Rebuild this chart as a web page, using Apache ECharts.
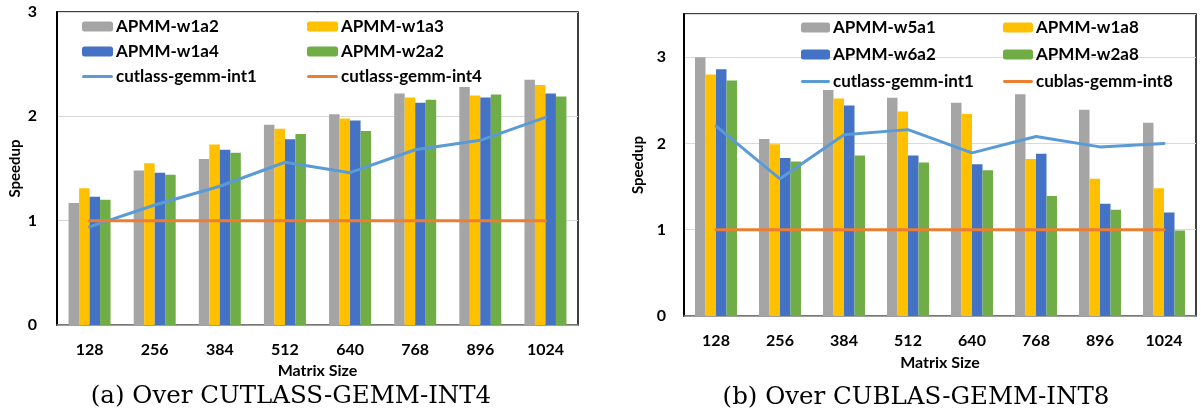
<!DOCTYPE html>
<html>
<head>
<meta charset="utf-8">
<script src="https://cdn.jsdelivr.net/npm/echarts@6/dist/echarts.min.js"></script>
<style>
  html, body { margin: 0; padding: 0; background: #fff; }
  #chart { width: 1201px; height: 415px; }
</style>
</head>
<body>
<div id="chart"></div>
<script>
// matrix sizes, shared by both panels
const sizes = ['128', '256', '384', '512', '640', '768', '896', '1024'];

// (a) over cutlass-gemm-int4
const w1a2 = [1.17, 1.48, 1.59, 1.92, 2.02, 2.22, 2.28, 2.35];
const w1a3 = [1.31, 1.55, 1.73, 1.88, 1.98, 2.18, 2.20, 2.30];
const w1a4 = [1.23, 1.46, 1.68, 1.78, 1.96, 2.13, 2.18, 2.22];
const w2a2 = [1.20, 1.44, 1.65, 1.83, 1.86, 2.16, 2.21, 2.19];
const cutlassInt1A = [0.94, 1.15, 1.33, 1.56, 1.46, 1.68, 1.77, 1.99];
const cutlassInt4 = [1, 1, 1, 1, 1, 1, 1, 1];

// (b) over cublas-gemm-int8
const w5a1 = [3.00, 2.05, 2.62, 2.53, 2.47, 2.57, 2.39, 2.24];
const w1a8 = [2.80, 1.99, 2.52, 2.37, 2.34, 1.82, 1.59, 1.48];
const w6a2 = [2.86, 1.83, 2.44, 1.86, 1.76, 1.88, 1.30, 1.20];
const w2a8 = [2.73, 1.79, 1.86, 1.78, 1.69, 1.39, 1.23, 0.99];
const cutlassInt1B = [2.20, 1.59, 2.10, 2.16, 1.89, 2.08, 1.96, 2.00];
const cublasInt8 = [1, 1, 1, 1, 1, 1, 1, 1];

const GRAY = '#A5A5A5';
const YELLOW = '#FFC000';
const BLUE = '#4472C4';
const GREEN = '#70AD47';
const LBLUE = '#5B9BD5';
const ORANGE = '#ED7D31';
const FONT = 'Lato';
// flat stroke used as legend icon for the line series
const LINE_ICON = 'path://M1.5,0h28a1.5,1.5 0 0 1 0,3h-28a1.5,1.5 0 0 1 0,-3z';

const chart = echarts.init(document.getElementById('chart'), null, { renderer: 'canvas' });

const bar = (name, data, color, idx) => ({
  name,
  type: 'bar',
  data,
  xAxisIndex: idx,
  yAxisIndex: idx,
  barWidth: 10.5,
  barGap: '0%',
  itemStyle: { color },
});
const line = (name, data, color, idx) => ({
  name,
  type: 'line',
  data,
  xAxisIndex: idx,
  yAxisIndex: idx,
  symbol: 'none',
  z: 5,
  lineStyle: { color, width: 3, cap: 'round' },
  itemStyle: { color },
});

const legend = (bars, lineName, left, top, gap, w) => ({
  data: [...bars, { name: lineName, icon: LINE_ICON }],
  orient: 'vertical',
  left,
  top,
  padding: 0,
  itemWidth: w,
  itemHeight: 10,
  itemGap: gap,
  textStyle: { fontFamily: FONT, fontWeight: 'bold', fontSize: 17, color: '#000', lineHeight: 16, padding: [0, 0, 0, -2] },
});

const xAxis = (idx, gap) => ({
  type: 'category',
  gridIndex: idx,
  data: sizes,
  name: 'Matrix Size',
  nameLocation: 'middle',
  nameGap: gap,
  nameTextStyle: { fontFamily: FONT, fontWeight: 'bold', fontSize: 16, color: '#000' },
  axisLine: { lineStyle: { color: '#8C8C8C', width: 1.5 } },
  axisTick: { show: false },
  axisLabel: { fontFamily: FONT, fontWeight: 'bold', fontSize: 16, color: '#000', margin: 17 },
});

const yAxis = (idx, max, margin, gap) => ({
  type: 'value',
  gridIndex: idx,
  min: 0,
  max,
  interval: 1,
  name: 'Speedup',
  nameLocation: 'middle',
  nameGap: gap,
  nameTextStyle: { fontFamily: FONT, fontWeight: 'bold', fontSize: 15, color: '#000' },
  axisLine: { show: true, lineStyle: { color: '#000', width: 2 } },
  axisTick: { show: false },
  axisLabel: {
    fontFamily: FONT, fontWeight: 'bold', fontSize: 16, color: '#000', margin,
    formatter: v => (v % 1 === 0 ? String(v) : ''),
  },
  splitLine: { lineStyle: { color: '#D9D9D9', width: 1 } },
});

chart.setOption({
  animation: false,
  grid: [
    { left: 57, top: 12, width: 521, height: 313, show: true, borderColor: '#000', borderWidth: 1.5 },
    { left: 684, top: 14, width: 512, height: 302, show: true, borderColor: '#000', borderWidth: 1.5 },
  ],
  legend: [
    legend(['APMM-w1a2', 'APMM-w1a4'], 'cutlass-gemm-int1', 82, 18, 8, 31),
    legend(['APMM-w1a3', 'APMM-w2a2'], 'cutlass-gemm-int4', 307, 18, 8, 31),
    legend(['APMM-w5a1', 'APMM-w6a2'], 'cutlass-gemm-int1', 801, 19, 10, 29),
    legend(['APMM-w1a8', 'APMM-w2a8'], 'cublas-gemm-int8', 1003, 19, 10, 30),
  ],
  xAxis: [xAxis(0, 31), xAxis(1, 39)],
  yAxis: [yAxis(0, 3, 20, 34), yAxis(1, 3.5, 18, 38)],
  series: [
    bar('APMM-w1a2', w1a2, GRAY, 0),
    bar('APMM-w1a3', w1a3, YELLOW, 0),
    bar('APMM-w1a4', w1a4, BLUE, 0),
    bar('APMM-w2a2', w2a2, GREEN, 0),
    line('cutlass-gemm-int1', cutlassInt1A, LBLUE, 0),
    line('cutlass-gemm-int4', cutlassInt4, ORANGE, 0),
    bar('APMM-w5a1', w5a1, GRAY, 1),
    bar('APMM-w1a8', w1a8, YELLOW, 1),
    bar('APMM-w6a2', w6a2, BLUE, 1),
    bar('APMM-w2a8', w2a8, GREEN, 1),
    line('cutlass-gemm-int1', cutlassInt1B, LBLUE, 1),
    line('cublas-gemm-int8', cublasInt8, ORANGE, 1),
  ],
  graphic: [
    {
      type: 'text', x: 291, y: 397,
      style: { text: '(a) Over CUTLASS-GEMM-INT4', font: '24.5px "DejaVu Serif"', fill: '#000', align: 'center', verticalAlign: 'middle' },
    },
    {
      type: 'text', x: 916, y: 398,
      style: { text: '(b) Over CUBLAS-GEMM-INT8', font: '24.5px "DejaVu Serif"', fill: '#000', align: 'center', verticalAlign: 'middle' },
    },
  ],
});
</script>
</body>
</html>
